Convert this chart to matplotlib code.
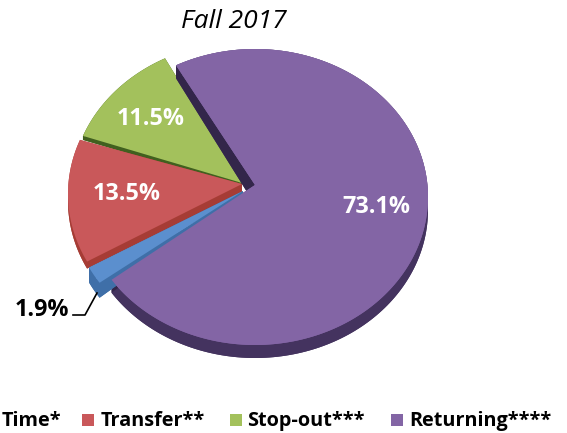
import numpy as np
import matplotlib
matplotlib.use("Agg")
import matplotlib.pyplot as plt

plt.rcParams["font.family"] = ["Open Sans", "DejaVu Sans"]

# data
categories = ["Time*", "Transfer**", "Stop-out***", "Returning****"]
values = [1.9, 13.5, 11.5, 73.1]

# colours
top_colors = ["#5B8FCE", "#C9585A", "#A3C15C", "#8365A5"]
side_colors = ["#3F6FA8", "#A63C35", "#41601F", "#44335F"]
cut_colors = ["#3F6FA8", "#A63C35", "#41601F", "#33264A"]

# slice geometry, picture pixels
rx, ry = 173, 148
start_angle = 214.0
centers = [(243, 200), (241, 194), (244, 190), (255, 197)]
apexes = [(243, 191), (242, 184), (242, 183), (255, 185)]
depths = [15, 7, 4, 13]
apex_drop = [(0, 4), (0, 8), (0, 4), (-8, 7)]
label_pos = [(42, 310), (127, 194), (151, 119), (376, 207)]
label_colors = ["black", "white", "white", "white"]

fig = plt.figure(figsize=(5.67, 4.33), dpi=100)
ax = fig.add_axes([0, 0, 1, 1])
ax.set_xlim(0, 567)
ax.set_ylim(433, 0)
ax.axis("off")

# angles from the values, going clockwise
spans = np.array(values) / sum(values) * 360
ends = start_angle - np.cumsum(spans)
starts = ends + spans


def rim(i):
    t = np.radians(np.linspace(starts[i], ends[i], 200))
    cx, cy = centers[i]
    return cx + rx * np.cos(t), cy - ry * np.sin(t)


def draw_slice(i):
    x, y = rim(i)
    d = depths[i]
    ap = apexes[i]
    bx, by = ap[0] + apex_drop[i][0], ap[1] + apex_drop[i][1]
    # underside and outer wall
    ax.fill(np.r_[bx, x], np.r_[by, y + d], color=side_colors[i], lw=0)
    ax.fill(np.r_[x, x[::-1]], np.r_[y, (y + d)[::-1]], color=side_colors[i], lw=0)
    # the two cut faces
    for k in (0, -1):
        ax.fill([ap[0], x[k], x[k], bx], [ap[1], y[k], y[k] + d, by],
                color=cut_colors[i], lw=0)
    # top
    ax.fill(np.r_[ap[0], x], np.r_[ap[1], y], color=top_colors[i], lw=0)


for i in [2, 1, 3, 0]:
    draw_slice(i)

# purple covers the blue slice near the middle
x3, y3 = rim(3)
ax.fill(np.r_[apexes[3][0], x3], np.r_[apexes[3][1], y3], color=top_colors[3], lw=0)

for v, p, c in zip(values, label_pos, label_colors):
    ax.text(p[0], p[1], f"{v}%", color=c, fontsize=16.8, fontweight="bold",
            ha="center", va="center")

# leader line for the small slice
ax.plot([73, 85, 97], [315, 315, 293], color="black", lw=1.2)

ax.text(234, 21, "Fall 2017", fontsize=19, fontstyle="italic", ha="center", va="center")

# legend
text_x = [2, 101, 247, 409]
box_x = [None, 82, 230, 391]
for name, tx, bx, col in zip(categories, text_x, box_x, top_colors):
    ax.text(tx, 421, name, fontsize=14.3, fontweight="bold", ha="left", va="center")
    if bx is not None:
        ax.add_patch(plt.Rectangle((bx, 414), 12, 12, color=col, lw=0))

fig.savefig("out.png", dpi=100)
